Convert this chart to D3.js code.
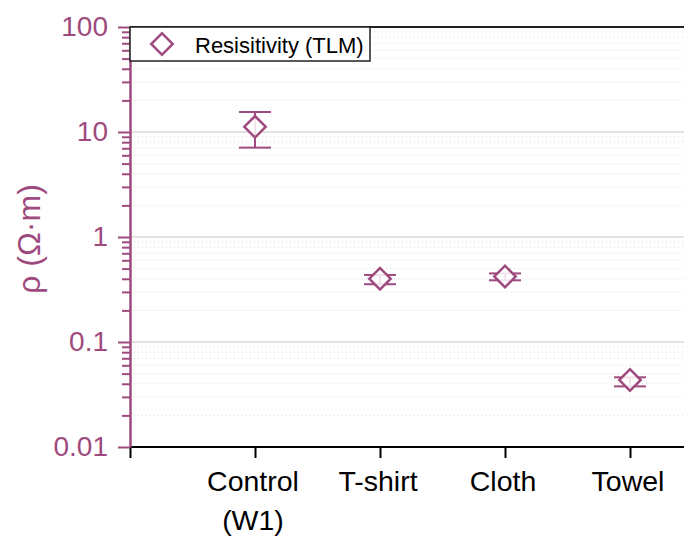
<!DOCTYPE html>
<html>
<head>
<meta charset="utf-8">
<script src="https://cdn.jsdelivr.net/npm/d3@7"></script>
<style>
  body { margin: 0; background: #fff; }
  svg { display: block; font-family: "Liberation Sans", Arial, sans-serif; }
</style>
</head>
<body>
<div id="plot"></div>
<script>
// sample positions and labels
const categories = [["Control", "(W1)"], ["T-shirt"], ["Cloth"], ["Towel"]];
const positions = [1, 2, 3, 4];
// resistivity (ohm m) with error bar ends
const rho = [11.2, 0.40, 0.42, 0.0435];
const rhoLow = [7.1, 0.355, 0.387, 0.0378];
const rhoHigh = [15.5, 0.435, 0.45, 0.0461];
const yTickValues = [0.01, 0.1, 1, 10, 100];
const yTickLabels = ["0.01", "0.1", "1", "10", "100"];
const legendLabel = "Resisitivity (TLM)";

const mauve = "#9e4a7e";
const width = 684, height = 540;
const margin = { top: 27, left: 130, bottom: 93 };

const svg = d3.select("div#plot").append("svg")
    .attr("width", width)
    .attr("height", height);

const x = d3.scaleLinear().domain([0, 4.5]).range([margin.left, margin.left + 562.5]);
const y = d3.scaleLog().domain([0.01, 100]).range([height - margin.bottom, margin.top]);

const minorTicks = y.ticks().filter(v => !yTickValues.some(t => Math.abs(t - v) / t < 1e-6));

// minor grid, dotted
svg.append("g").selectAll("line")
    .data(minorTicks)
    .enter().append("line")
    .attr("x1", margin.left).attr("x2", width)
    .attr("y1", d => y(d)).attr("y2", d => y(d))
    .attr("stroke", "#d9d9d9")
    .attr("stroke-width", 1)
    .attr("stroke-dasharray", "1,3");

// major grid
svg.append("g").selectAll("line")
    .data(yTickValues.slice(1, -1))
    .enter().append("line")
    .attr("x1", margin.left).attr("x2", width)
    .attr("y1", d => y(d)).attr("y2", d => y(d))
    .attr("stroke", "#e2e2e2")
    .attr("stroke-width", 2);

// top frame line
svg.append("line")
    .attr("x1", margin.left).attr("x2", width)
    .attr("y1", margin.top).attr("y2", margin.top)
    .attr("stroke", "#222").attr("stroke-width", 2);

// x axis
const xAxis = svg.append("g")
    .attr("transform", `translate(0,${height - margin.bottom})`)
    .call(d3.axisBottom(x).tickValues([0].concat(positions)).tickFormat("").tickSize(11).tickSizeOuter(0));
xAxis.select(".domain").attr("stroke", "#000").attr("stroke-width", 2).attr("d", `M${margin.left},0H${width}`);
xAxis.selectAll(".tick line").attr("stroke", "#000").attr("stroke-width", 2);

svg.append("g").selectAll("text")
    .data(positions)
    .enter().append("text")
    .attr("x", d => x(d) - 2)
    .attr("y", 491)
    .attr("text-anchor", "middle")
    .attr("font-size", 28.5)
    .attr("fill", "#000")
    .each(function (d, i) {
        d3.select(this).selectAll("tspan")
            .data(categories[i])
            .enter().append("tspan")
            .attr("x", x(d) - 2)
            .attr("dy", (t, j) => j === 0 ? 0 : 39)
            .text(t => t);
    });

// y axis, minor ticks
const yMinor = svg.append("g")
    .attr("transform", `translate(${margin.left},0)`)
    .call(d3.axisLeft(y).tickValues(minorTicks).tickFormat("").tickSize(8).tickSizeOuter(0));
yMinor.select(".domain").remove();
yMinor.selectAll(".tick line").attr("stroke", mauve).attr("stroke-width", 2);

// y axis, major ticks
const yAxis = svg.append("g")
    .attr("transform", `translate(${margin.left},0)`)
    .call(d3.axisLeft(y).tickValues(yTickValues)
        .tickFormat((d, i) => yTickLabels[i]).tickSize(12).tickSizeOuter(0).tickPadding(10));
yAxis.select(".domain").attr("stroke", mauve).attr("stroke-width", 2.5);
yAxis.selectAll(".tick line").attr("stroke", mauve).attr("stroke-width", 2);
yAxis.selectAll(".tick text").attr("fill", mauve).attr("font-size", 28)
    .attr("font-family", "Liberation Sans, Arial, sans-serif");

svg.append("text")
    .attr("transform", `translate(40,${y(1) + 2}) rotate(-90)`)
    .attr("text-anchor", "middle")
    .attr("font-size", 32)
    .attr("fill", mauve)
    .text("ρ (Ω·m)");

// error bars
const capHalf = 16;
const bars = svg.append("g").selectAll("g")
    .data(positions)
    .enter().append("g")
    .attr("stroke", mauve)
    .attr("stroke-width", 2);
bars.append("line")
    .attr("x1", d => x(d)).attr("x2", d => x(d))
    .attr("y1", (d, i) => y(rhoLow[i])).attr("y2", (d, i) => y(rhoHigh[i]));
bars.append("line")
    .attr("x1", d => x(d) - capHalf).attr("x2", d => x(d) + capHalf)
    .attr("y1", (d, i) => y(rhoLow[i])).attr("y2", (d, i) => y(rhoLow[i]));
bars.append("line")
    .attr("x1", d => x(d) - capHalf).attr("x2", d => x(d) + capHalf)
    .attr("y1", (d, i) => y(rhoHigh[i])).attr("y2", (d, i) => y(rhoHigh[i]));

// diamond markers
const diamond = d3.symbol().type(d3.symbolSquare).size(230);
svg.append("g").selectAll("path")
    .data(positions)
    .enter().append("path")
    .attr("d", diamond)
    .attr("transform", (d, i) => `translate(${x(d)},${y(rho[i])}) rotate(45)`)
    .attr("fill", "#fff")
    .attr("fill-opacity", 0.85)
    .attr("stroke", mauve)
    .attr("stroke-width", 2.5);

// legend
const legend = svg.append("g");
legend.append("rect")
    .attr("x", margin.left).attr("y", margin.top)
    .attr("width", 240).attr("height", 34)
    .attr("fill", "#fff")
    .attr("stroke", "#222").attr("stroke-width", 1.5);
legend.append("path")
    .attr("d", diamond)
    .attr("transform", `translate(162,44) rotate(45)`)
    .attr("fill", "#fff")
    .attr("stroke", mauve)
    .attr("stroke-width", 2.5);
legend.append("text")
    .attr("x", 195).attr("y", 53)
    .attr("font-size", 22)
    .attr("fill", "#000")
    .text(legendLabel);
</script>
</body>
</html>
